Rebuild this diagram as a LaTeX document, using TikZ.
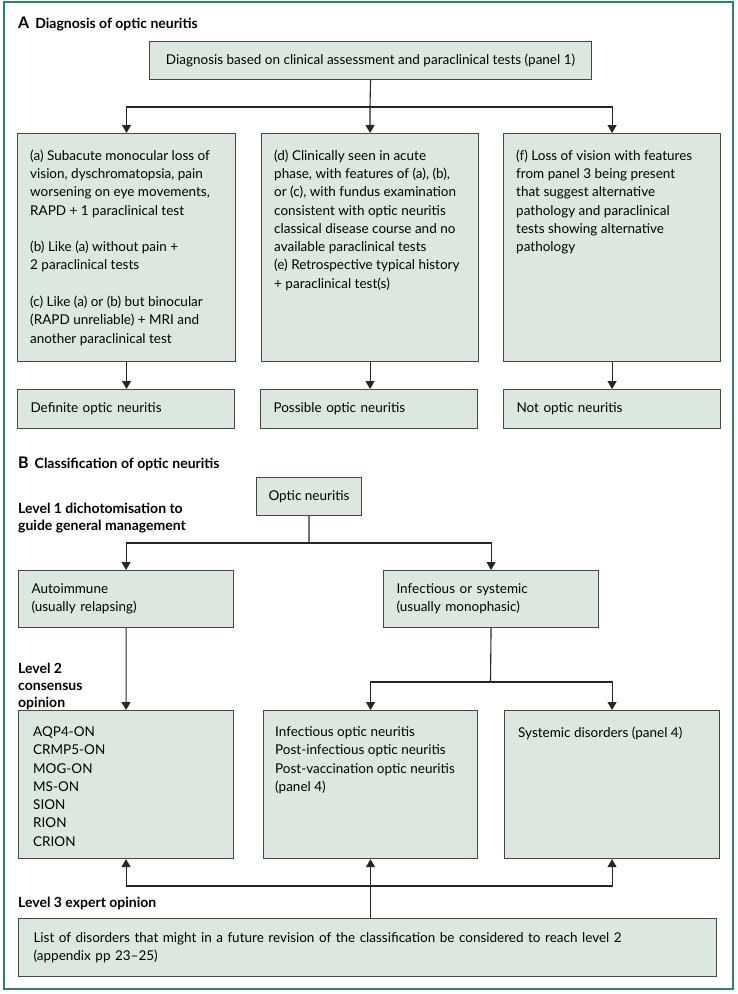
\documentclass[tikz,border=0pt]{standalone}
\usepackage{fontspec}
\setmainfont{Lato}
\usetikzlibrary{arrows.meta,calc}
\definecolor{frame}{RGB}{44,134,100}
\definecolor{boxfill}{RGB}{220,231,221}
\definecolor{boxline}{RGB}{70,70,70}
\newcommand{\bodyfont}{\fontsize{13.5bp}{18.3bp}\selectfont}
\newcommand{\headfont}{\fontsize{14bp}{17bp}\selectfont\bfseries}
\tikzset{
  box/.style={draw=boxline, fill=boxfill, line width=1.1bp, rectangle, inner sep=0pt, anchor=north west},
  boxtxt/.style={inner sep=0pt, anchor=north west, align=left, font=\bodyfont},
  cbox/.style={draw=boxline, fill=boxfill, line width=1.1bp, rectangle, inner xsep=13bp, inner ysep=0pt, align=left, font=\bodyfont, anchor=north west},
  head/.style={inner sep=0pt, anchor=west, align=left, font=\headfont},
  arr/.style={draw=black!85, line width=1.1bp, -{Triangle[length=8bp,width=9bp]}},
  ln/.style={draw=black!85, line width=1.1bp},
}
\begin{document}
\begin{tikzpicture}[x=1bp,y=-1bp]
\useasboundingbox (0,0) rectangle (738,994);
\fill[white] (0,0) rectangle (738,994);
\draw[frame, line width=1.3bp] (4,2) rectangle (733,989);

% ---------- Panel A ----------
\node[head] (titleA) at (18,24) {{\fontsize{16bp}{17bp}\selectfont A}\hspace{6bp}Diagnosis of optic neuritis};

\node[cbox, inner xsep=0pt, minimum width=442bp, minimum height=38bp] (diag) at (149,41) {Diagnosis based on clinical assessment and paraclinical tests (panel 1)};

\node[box, minimum width=218bp, minimum height=228bp] (a) at (17,133) {};
\node[box, minimum width=217bp, minimum height=228bp] (d) at (261,133) {};
\node[box, minimum width=217bp, minimum height=228bp] (f) at (503,133) {};

\node[boxtxt] (atxt) at (30,149.5) {(a) Subacute monocular loss of\\ vision, dyschromatopsia, pain\\ worsening on eye movements,\\ RAPD + 1 paraclinical test\\[18.3bp] (b) Like (a) without pain +\\ 2 paraclinical tests\\[18.3bp] (c) Like (a) or (b) but binocular\\ (RAPD unreliable) + MRI and\\ another paraclinical test};
\node[boxtxt] (dtxt) at (274,149.5) {(d) Clinically seen in acute\\ phase, with features of (a), (b),\\ or (c), with fundus examination\\ consistent with optic neuritis\\ classical disease course and no\\ available paraclinical tests\\ (e) Retrospective typical history\\ + paraclinical test(s)};
\node[boxtxt] (ftxt) at (516,149.5) {(f) Loss of vision with features\\ from panel 3 being present\\ that suggest alternative\\ pathology and paraclinical\\ tests showing alternative\\ pathology};

\node[cbox, text width=191bp, minimum height=39bp] (def) at (17,389) {Definite optic neuritis};
\node[cbox, text width=191bp, minimum height=39bp] (pos) at (260,389) {Possible optic neuritis};
\node[cbox, text width=191bp, minimum height=39bp] (nop) at (503,389) {Not optic neuritis};

\coordinate (j1) at (370,107);
\draw[ln] (diag.south) -- (j1);
\draw[arr] (j1) -| (a.north);
\draw[arr] (j1) -- (d.north);
\draw[arr] (j1) -| (f.north);
\draw[arr] (a.south) -- (a.south |- def.north);
\draw[arr] (d.south) -- (d.south |- pos.north);
\draw[arr] (f.south) -- (f.south |- nop.north);

% ---------- Panel B ----------
\node[head] (titleB) at (18,464) {{\fontsize{16bp}{17bp}\selectfont B}\hspace{6bp}Classification of optic neuritis};

\node[cbox, inner xsep=12bp, minimum height=38bp] (on) at (256,477) {Optic neuritis};

\node[head] (lev1) at (18,518.5) {Level 1 dichotomisation to\\ guide general management};

\node[cbox, text width=189bp, minimum height=57bp] (auto) at (18,570) {Autoimmune\\ (usually relapsing)};
\node[cbox, text width=189bp, minimum height=57bp] (inf) at (383,570) {Infectious or systemic\\ (usually monophasic)};

\coordinate (j2) at (309,543);
\draw[ln] (on.south) -- (j2);
\draw[arr] (j2) -| (auto.north);
\draw[arr] (j2) -| (inf.north);

\node[head] (lev2) at (18,686) {Level 2\\ consensus\\ opinion};

\node[box, minimum width=215bp, minimum height=148bp] (aqp) at (18,710) {};
\node[box, minimum width=214bp, minimum height=148bp] (iop) at (263,710) {};
\node[box, minimum width=215bp, minimum height=148bp] (sys) at (504,710) {};

\node[boxtxt] (aqptxt) at (33,726.5) {AQP4-ON\\ CRMP5-ON\\ MOG-ON\\ MS-ON\\ SION\\ RION\\ CRION};
\node[boxtxt] (ioptxt) at (275,726.5) {Infectious optic neuritis\\ Post-infectious optic neuritis\\ Post-vaccination optic neuritis\\ (panel 4)};
\node[boxtxt] (systxt) at (518,726.5) {Systemic disorders (panel 4)};

\coordinate (j3) at (490.5,682);
\draw[ln] (inf.south) -- (j3);
\draw[arr] (j3) -| (iop.north);
\draw[arr] (j3) -| (sys.north);
\draw[arr] (auto.south) -- (aqp.north);

\node[head] (lev3) at (18,903) {Level 3 expert opinion};

\node[cbox, inner xsep=15bp, text width=668bp, minimum height=58bp] (list) at (18,918) {List of disorders that might in a future revision of the classification be considered to reach level 2\\ (appendix pp 23--25)};

\coordinate (j4) at (370,886);
\draw[arr] (iop.south |- list.north) -- (iop.south);
\draw[arr] (j4) -| (aqp.south);
\draw[arr] (j4) -| (sys.south);
\end{tikzpicture}
\end{document}
